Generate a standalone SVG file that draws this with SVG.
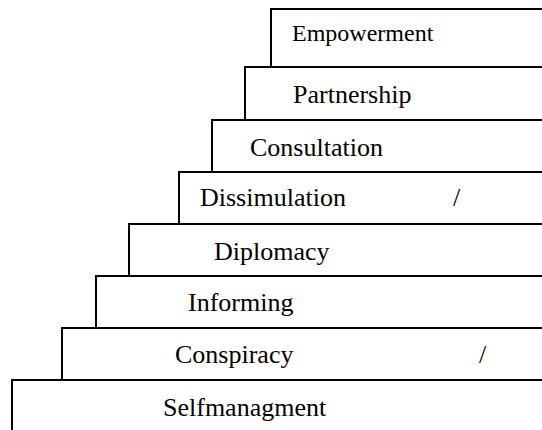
<svg xmlns="http://www.w3.org/2000/svg" width="542" height="430" viewBox="0 0 542 430">
<style>
.step{fill:#fff;stroke:#000;stroke-width:2}
.t{font-family:"Liberation Serif","Times New Roman",serif;font-size:26px;fill:#000}
.s{font-size:24px}
</style>
<rect width="542" height="430" fill="#fff"/>
<g id="n1"><rect class="step" x="271" y="9" width="300" height="58"/><text class="t s" x="292" y="41">Empowerment</text></g>
<g id="n2"><rect class="step" x="245" y="67" width="330" height="53"/><text class="t" x="293" y="103">Partnership</text></g>
<g id="n3"><rect class="step" x="212" y="120" width="360" height="52"/><text class="t" x="250" y="156">Consultation</text></g>
<g id="n4"><rect class="step" x="179" y="172" width="400" height="52"/><text class="t" x="200" y="206">Dissimulation</text><text class="t" x="453" y="206">/</text></g>
<g id="n5"><rect class="step" x="129" y="224" width="450" height="52"/><text class="t" x="214" y="260">Diplomacy</text></g>
<g id="n6"><rect class="step" x="96" y="276" width="480" height="52"/><text class="t" x="188" y="311">Informing</text></g>
<g id="n7"><rect class="step" x="62" y="328" width="520" height="52"/><text class="t" x="175" y="363">Conspiracy</text><text class="t" x="479" y="363">/</text></g>
<g id="n8"><rect class="step" x="12" y="380" width="570" height="80"/><text class="t" x="163" y="416">Selfmanagment</text></g>
<g id="connectors"></g>
</svg>
